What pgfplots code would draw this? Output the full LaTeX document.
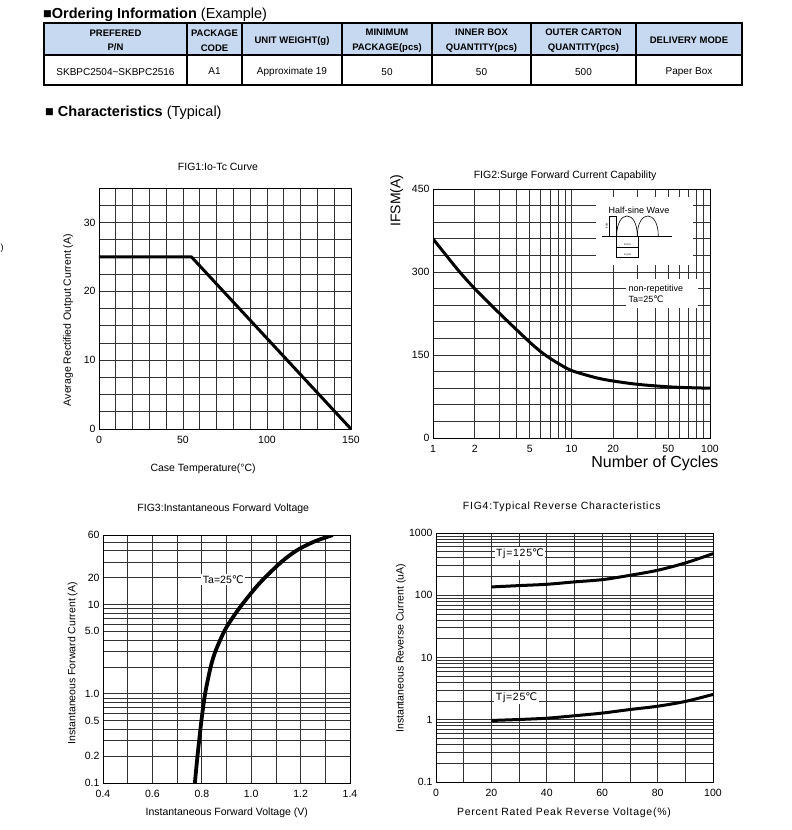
\documentclass[border=0pt]{standalone}
\usepackage{pgfplots}
\pgfplotsset{compat=1.18}
\usepackage{fontspec}
\setmainfont{Liberation Sans}
\newfontfamily\dejavu{DejaVu Sans}
\newfontfamily\spaced[LetterSpace=7]{Liberation Sans}
\definecolor{hdr}{HTML}{C6D9F1}
\newcommand{\fs}[1]{\fontsize{#1}{#1}\selectfont}
\newcommand{\degC}{{\dejavu ℃}}
\pgfplotsset{
  every axis title shift=0pt,
  myax/.style={
    scale only axis,
    anchor=north west,
    axis line style={black, line width=0.9pt},
    grid=both,
    major grid style={draw=black!80, line width=0.65pt},
    minor grid style={draw=black!80, line width=0.65pt},
    major tick length=0pt, minor tick length=0pt,
    tick style={draw=none},
    tick label style={font=\fs{10.5}},
    xticklabel style={yshift=-3.5pt},
    label style={font=\fs{10.5}},
    title style={font=\fs{10.5}},
    /pgf/number format/assume math mode=true,
    xlabel style={anchor=center},
    ylabel style={anchor=center},
    title style={anchor=center},
  },
  curve/.style={black, line width=3pt, line join=round},
}
\begin{document}
\begin{tikzpicture}[x=1pt,y=1pt]
\path (0,0) rectangle (792,-830);
% ---------- heading and table ----------
\node[anchor=west, font=\fs{14.5}, inner sep=0pt] at (43,-14.5) {■\textbf{Ordering Information} (Example)};
\fill[hdr] (44,-23) rectangle (742,-55);
\draw[line width=1.2pt] (44,-23) rectangle (742,-85);
\draw[line width=1.2pt] (44,-55) -- (742,-55);
\foreach \xx in {187,242,342,432,531,636}{\draw[line width=1.2pt] (\xx,-23) -- (\xx,-85);}
\begin{scope}[every node/.style={align=center, font=\fontsize{9.5}{14.5}\selectfont\bfseries, inner sep=0pt}]
\node at (115.5,-40.5) {PREFERED\\P/N};
\node at (214.5,-40.5) {PACKAGE\\CODE};
\node at (292,-41.5) {UNIT WEIGHT(g)};
\node at (387,-40.5) {MINIMUM\\PACKAGE(pcs)};
\node at (481.5,-40.5) {INNER BOX\\QUANTITY(pcs)};
\node at (583.5,-40.5) {OUTER CARTON\\QUANTITY(pcs)};
\node at (689,-40.5) {DELIVERY MODE};
\end{scope}
\begin{scope}[every node/.style={font=\fs{10}, inner sep=0pt}]
\node at (115.5,-72) {SKBPC2504\textasciitilde SKBPC2516};
\node at (214.5,-71) {A1};
\node at (292,-72) {Approximate 19};
\node at (387,-72) {50};
\node at (481.5,-72) {50};
\node at (583.5,-72) {500};
\node at (689,-72) {Paper Box};
\end{scope}
\node[anchor=west, font=\fs{14.5}, inner sep=0pt] at (45,-112.5) {■ \textbf{Characteristics} (Typical)};
\node[font=\fs{9}, inner sep=0pt] at (2,-248) {)};
% ---------- FIG1 ----------
\begin{axis}[myax, at={(99pt,-188pt)}, width=252pt, height=241pt,
  xmin=0, xmax=150, ymin=0, ymax=35,
  xtick={0,50,100,150}, minor xtick={10,20,30,40,60,70,80,90,110,120,130,140},
  ytick={0,10,20,30}, minor ytick={2.5,5,7.5,12.5,15,17.5,22.5,25,27.5,32.5},
  title={FIG1:Io-Tc Curve}, title style={at={(axis description cs:0.472,1.087)}},
  xlabel={Case Temperature(°C)}, xlabel style={at={(axis description cs:0.413,-0.166)}},
  ylabel={Average Rectified Output Current (A)}, ylabel style={at={(axis description cs:-0.122,0.452)}},
]
\addplot[curve] coordinates {(0,25) (55,25) (150,0)};
\end{axis}
% ---------- FIG2 ----------
\begin{axis}[myax, at={(433pt,-189pt)}, width=277pt, height=249pt,
  xmode=log, xmin=1, xmax=100, ymin=0, ymax=450,
  xtick={1,2,5,10,20,50,100}, xticklabels={1,2,5,10,20,50,100},
  minor xtick={3,4,6,7,8,9,30,40,60,70,80,90},
  ytick={0,150,300,450}, minor ytick={30,60,90,120,180,210,240,270,330,360,390,420},
  title={FIG2:Surge Forward Current Capability}, title style={at={(axis description cs:0.477,1.053)}},
  xlabel={Number of Cycles}, xlabel style={font=\fs{16}, at={(axis description cs:0.801,-0.102)}},
  ylabel={IFSM(A)}, ylabel style={font=\fs{14}, at={(axis description cs:-0.131,0.954)}},
]
\addplot[curve, smooth] coordinates {(1,360) (1.5,305) (2,270) (3,226) (4,196) (5,173) (6,156) (7,144) (8,135) (10,122) (15,109) (20,103) (30,97) (50,92.5) (70,91) (100,90)};
\end{axis}
% inset of FIG2
\fill[white] (596,-197) rectangle (693,-265);
\fill[white] (626,-279) rectangle (698,-308);
\node[anchor=west, font=\fs{9}, inner sep=0pt] at (608.5,-210.5) {Half-sine Wave};
\begin{scope}[line width=0.6pt]
\draw (601.7,-236) -- (672,-236);
\draw (616.7,-236) .. controls (616.7,-209.3) and (637.3,-209.3) .. (637.3,-236);
\draw (637.3,-236) .. controls (637.3,-209.3) and (658.3,-209.3) .. (658.3,-236);
\draw (609.3,-216) -- (616.7,-216);
\draw (609.3,-216) -- (609.3,-236);
\draw (616.7,-216) -- (616.7,-258);
\draw (638.3,-236) -- (638.3,-258);
\draw (616.7,-247.3) -- (638.3,-247.3);
\draw (616.7,-257.7) -- (638.3,-257.7);
\end{scope}
\node[font=\fs{2.5}, inner sep=0pt] at (627.5,-245) {8.3ms};
\node[font=\fs{2.5}, inner sep=0pt] at (627.5,-255.3) {1cycle};
\node[font=\fs{2.5}, inner sep=0pt, rotate=90] at (606.8,-226) {IFSM};
\node[anchor=west, font=\fs{9}, inner sep=0pt] at (628.5,-289.3) {non-repetitive};
\node[anchor=west, font=\fs{9}, inner sep=0pt] at (628.5,-299.5) {Ta=25\degC};
% ---------- FIG3 ----------
\begin{axis}[myax, at={(103pt,-535pt)}, width=247pt, height=248pt,
  ymode=log, ymin=0.1, ymax=60, xmin=0.4, xmax=1.4,
  xtick={0.4,0.6,0.8,1.0,1.2,1.4}, xticklabels={0.4,0.6,0.8,1.0,1.2,1.4},
  minor xtick={0.5,0.7,0.9,1.1,1.3},
  ytick={0.1,0.2,0.5,1,5,10,20,60}, yticklabels={0.1,0.2,0.5,1.0,5.0,10,20,60},
  minor ytick={0.3,0.4,0.6,0.7,0.8,0.9,2,3,4,6,7,8,9,30,40,50},
  title={FIG3:Instantaneous Forward Voltage}, title style={at={(axis description cs:0.487,1.105)}},
  xlabel={Instantaneous Forward Voltage (V)}, xlabel style={at={(axis description cs:0.501,-0.12)}},
  ylabel={Instantaneous Forward Current (A)}, ylabel style={at={(axis description cs:-0.123,0.483)}},
]
\addplot[curve, smooth, line width=3.8pt] coordinates {(0.772,0.1) (0.7825,0.2) (0.7984,0.5) (0.8134,1) (0.836,2) (0.8554,3) (0.8909,5) (0.923,7) (0.9633,10) (1.0143,15) (1.0556,20) (1.1225,30) (1.1825,40) (1.2504,50) (1.33,60)};
\end{axis}
\node[fill=white, font=\fs{10.5}, inner sep=1.5pt] at (223.3,-579.5) {Ta=25\degC};
% ---------- FIG4 ----------
\begin{axis}[myax, at={(436pt,-533pt)}, width=277pt, height=249pt,
  ymode=log, ymin=0.1, ymax=1000, xmin=0, xmax=100,
  xtick={0,20,40,60,80,100}, minor xtick={10,30,50,70,90},
  ytick={0.1,1,10,100,1000}, yticklabels={0.1,1,10,100,1000},
  minor ytick={0.2,0.3,0.4,0.5,0.6,0.7,0.8,0.9,2,3,4,5,6,7,8,9,20,30,40,50,60,70,80,90,200,300,400,500,600,700,800,900},
  title={\spaced FIG4:Typical Reverse Characteristics}, title style={at={(axis description cs:0.454,1.106)}},
  xlabel={\spaced Percent Rated Peak Reverse Voltage(\%)}, xlabel style={at={(axis description cs:0.462,-0.123)}},
  ylabel={Instantaneous Reverse Current (uA)}, ylabel style={at={(axis description cs:-0.127,0.537)}},
]
\addplot[curve, smooth] coordinates {(20,136) (30,143) (40,150) (50,164) (60,178) (70,209) (80,252) (90,330) (100,466)};
\addplot[curve, smooth] coordinates {(20,0.975) (30,1.01) (40,1.06) (50,1.16) (60,1.28) (70,1.46) (80,1.65) (90,1.97) (100,2.55)};
\end{axis}
\node[fill=white, font=\fs{10.5}, inner sep=1.5pt] at (520,-553.3) {\spaced Tj=125\degC};
\node[fill=white, font=\fs{10.5}, inner sep=1.5pt] at (516.5,-697.3) {\spaced Tj=25\degC};
\pgfresetboundingbox
\useasboundingbox (0,0) rectangle (792,-830);
\end{tikzpicture}
\end{document}
